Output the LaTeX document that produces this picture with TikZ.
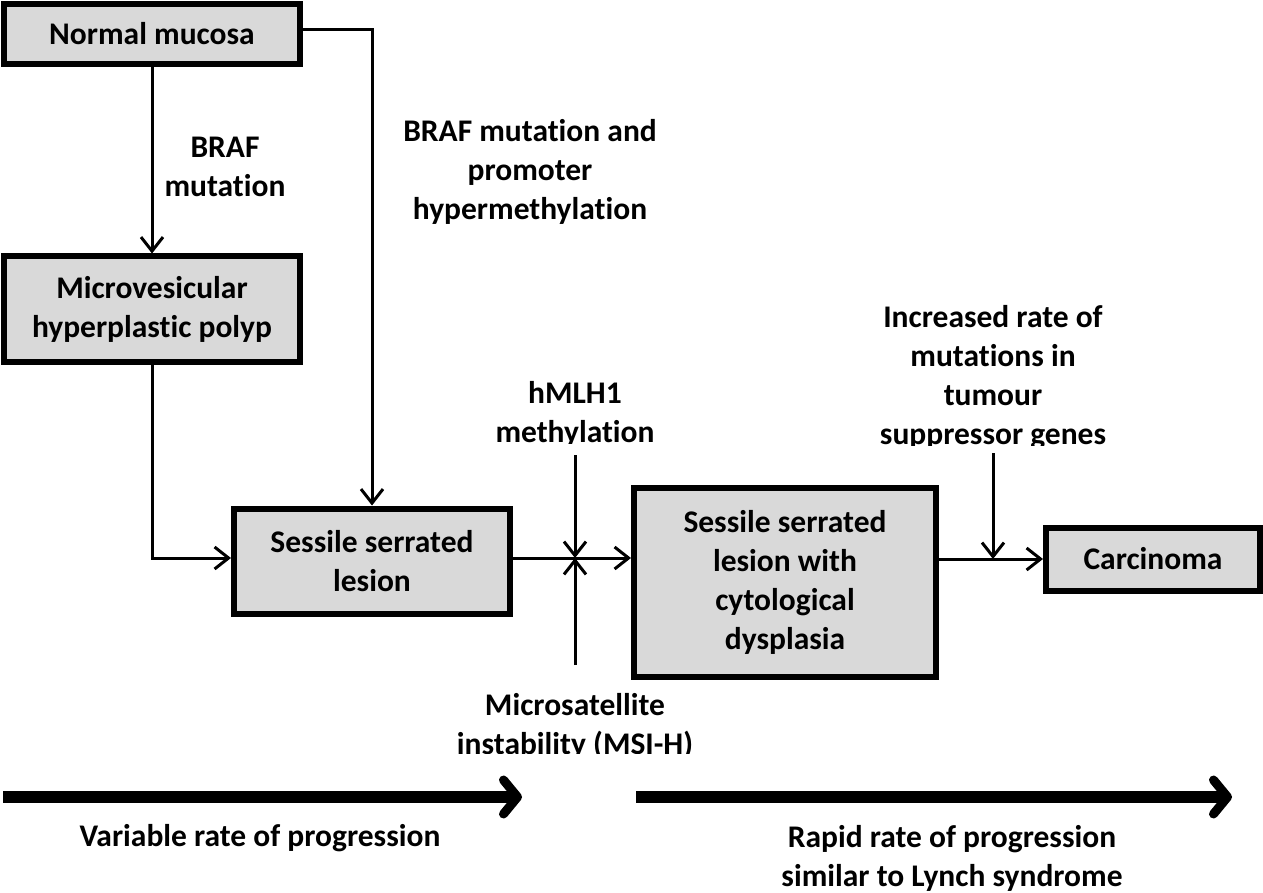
\documentclass[tikz,border=0pt]{standalone}
\usepackage{fontspec}
\setmainfont{Carlito}[RawFeature={-liga}]
\usetikzlibrary{arrows.meta}
\definecolor{boxgray}{HTML}{D9D9D9}
\begin{document}
\begin{tikzpicture}[x=1pt,y=-1pt,
  box/.style={draw=black,line width=6pt,fill=boxgray,inner sep=0pt,align=center,
    font=\fontsize{31.5}{39}\selectfont\bfseries},
  lbl/.style={inner sep=0pt,align=center,font=\fontsize{31.5}{39}\selectfont\bfseries},
  conn/.style={line width=3pt,-{Straight Barb[length=14pt,width=22pt,line width=3pt]}},
  big/.style={line width=12pt,-{Straight Barb[length=14pt,width=34pt,line width=9pt,round]}}]
\useasboundingbox (0,0) rectangle (1263,893);
% boxes
\node[box,minimum width=296pt,minimum height=60pt] (nm) at (152,34) {Normal mucosa};
\node[box,minimum width=296pt,minimum height=105pt] (mhp) at (152,309) {Microvesicular\\hyperplastic polyp};
\node[box,minimum width=276pt,minimum height=105pt] (ssl) at (372,561) {Sessile serrated\\lesion};
\node[box,minimum width=302pt,minimum height=189pt] (ssld) at (785,582) {Sessile serrated\\lesion with\\cytological\\dysplasia};
\node[box,minimum width=214pt,minimum height=63pt] (carc) at (1153,559) {Carcinoma};
% labels
\node[lbl] (braf) at (225,167) {BRAF\\mutation};
\node[lbl] (brafp) at (530,172) {BRAF mutation and\\promoter\\hypermethylation};
\begin{scope}
\clip (400,360) rectangle (760,443);
\node[lbl] (hm) at (575,414) {hMLH1\\methylation};
\end{scope}
\begin{scope}
\clip (820,280) rectangle (1180,445);
\node[lbl] (inc) at (993,378) {Increased rate of\\mutations in\\tumour\\suppressor genes};
\end{scope}
\begin{scope}
\clip (400,680) rectangle (760,753);
\node[lbl] (msi) at (575,726) {Microsatellite\\instability (MSI-H)};
\end{scope}
\begin{scope}
\clip (0,815) rectangle (560,852);
\node[lbl] (var) at (260,838) {Variable rate of progression};
\end{scope}
\node[lbl] (rap) at (952,858) {Rapid rate of progression\\similar to Lynch syndrome};
% coordinates
\coordinate (j1) at (575,558);
\coordinate (htop) at (575,455);
\coordinate (mbot) at (575,665);
\coordinate (j2) at (993,559);
\coordinate (itop) at (993,453);
\coordinate (a1s) at (3,797);
\coordinate (a1e) at (522,797);
\coordinate (a2s) at (636,797);
\coordinate (a2e) at (1232,797);
% connectors
\draw[conn] (nm.south) -- (mhp.north);
\draw[conn] (nm.east |- 0,30) -| (ssl.north);
\draw[conn] (mhp.south) |- (ssl.west |- j1);
\draw[conn] (ssl.east |- j1) -- (ssld.west |- j1);
\draw[conn] (htop) -- (j1);
\draw[conn] (mbot) -- (j1);
\draw[conn] (ssld.east |- j2) -- (carc.west |- j2);
\draw[conn] (itop) -- (j2);
\draw[big] (a1s) -- (a1e);
\draw[big] (a2s) -- (a2e);
\end{tikzpicture}
\end{document}
